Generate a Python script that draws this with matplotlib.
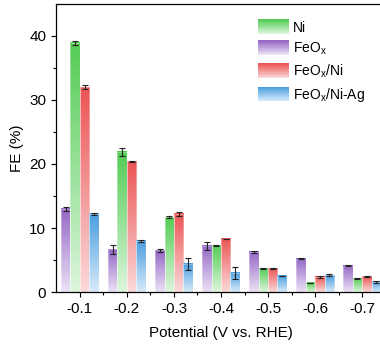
import numpy as np
import matplotlib
matplotlib.use("Agg")
import matplotlib.pyplot as plt
from matplotlib.colors import LinearSegmentedColormap
from matplotlib.patches import Rectangle
from matplotlib.legend_handler import HandlerBase

plt.rcParams['font.family'] = ['Liberation Sans', 'DejaVu Sans']
plt.rcParams['mathtext.default'] = 'regular'

# data
potentials = ['-0.1', '-0.2', '-0.3', '-0.4', '-0.5', '-0.6', '-0.7']
feox = [13.0, 6.7, 6.5, 7.2, 6.25, 5.2, 4.1]
feox_err = [0.3, 0.7, 0.2, 0.6, 0.2, 0.05, 0.1]
ni = [38.9, 21.9, 11.7, 7.3, 3.65, 1.45, 2.1]
ni_err = [0.3, 0.6, 0.2, 0.05, 0.05, 0.05, 0.1]
feox_ni = [32.0, 20.4, 12.2, 8.3, 3.7, 2.35, 2.45]
feox_ni_err = [0.3, 0.1, 0.3, 0.05, 0.05, 0.1, 0.1]
feox_ni_ag = [12.2, 8.0, 4.4, 3.0, 2.5, 2.6, 1.6]
feox_ni_ag_err = [0.1, 0.1, 0.9, 0.9, 0.05, 0.15, 0.1]

# (label, values, errors, top colour, bottom colour)
series = [
    ('FeO$_x$', feox, feox_err, '#9567c6', '#ebe2f5'),
    ('Ni', ni, ni_err, '#55cc55', '#dcf5dc'),
    ('FeO$_x$/Ni', feox_ni, feox_ni_err, '#ec5555', '#fbd9d9'),
    ('FeO$_x$/Ni-Ag', feox_ni_ag, feox_ni_ag_err, '#4a9ee0', '#d8eaf8'),
]
legend_order = [1, 0, 2, 3]

fig = plt.figure(figsize=(3.8, 3.49), dpi=100)
ax = fig.add_axes([0.147, 0.163, 0.868, 0.826])

x = np.arange(len(potentials))
w = 0.2
grad = np.linspace(1, 0, 100).reshape(-1, 1)

for i, (lab, vals, errs, ctop, cbot) in enumerate(series):
    cmap = LinearSegmentedColormap.from_list(lab, [cbot, ctop])
    pos = x + (i - 1.5) * w
    bars = ax.bar(pos, vals, w, color='none', edgecolor='none', zorder=2)
    for r in bars:
        bx, by = r.get_x(), r.get_y()
        bw, bh = r.get_width(), r.get_height()
        ax.imshow(grad, cmap=cmap, aspect='auto', extent=(bx, bx + bw, by, by + bh),
                  origin='upper', zorder=2, interpolation='bicubic')
        ax.add_patch(Rectangle((bx, by), bw, bh, fill=False, edgecolor='white',
                               linewidth=0.4, alpha=0.6, zorder=3))
    ax.errorbar(pos, vals, yerr=errs, fmt='none', ecolor='#222222', elinewidth=0.8,
                capsize=2.5, capthick=0.8, zorder=4)


class GradHandler(HandlerBase):
    def __init__(self, ctop, cbot):
        super().__init__()
        self.ctop, self.cbot = ctop, cbot

    def create_artists(self, legend, orig_handle, xdescent, ydescent, width, height,
                       fontsize, trans):
        cmap = LinearSegmentedColormap.from_list('h', [self.cbot, self.ctop])
        n = 20
        arts = []
        h = height * 1.5
        y0 = -ydescent - (h - height) / 2
        for k in range(n):
            arts.append(Rectangle((-xdescent, y0 + k * h / n), width, h / n + 0.2,
                                  facecolor=cmap(k / (n - 1)), edgecolor='none',
                                  transform=trans))
        return arts


handles = []
hmap = {}
labels = []
for j in legend_order:
    lab, _, _, ctop, cbot = series[j]
    hnd = Rectangle((0, 0), 1, 1)
    handles.append(hnd)
    labels.append(lab)
    hmap[hnd] = GradHandler(ctop, cbot)

ax.legend(handles, labels, handler_map=hmap, loc='upper left',
          bbox_to_anchor=(0.575, 0.985), frameon=False, fontsize=10,
          handlelength=2.2, handletextpad=0.3, labelspacing=0.42)

ax.set_xlim(-0.51, 6.5)
ax.set_ylim(0, 45)
ax.set_xticks(x)
ax.set_xticklabels(potentials)
ax.set_xticks(x[:-1] + 0.5, minor=True)
ax.set_yticks([0, 10, 20, 30, 40])
ax.set_yticks([5, 15, 25, 35], minor=True)
ax.tick_params(axis='both', which='major', direction='out', length=3.5, width=0.8,
               labelsize=11)
ax.tick_params(axis='both', which='minor', direction='out', length=2, width=0.8)
ax.set_xlabel('Potential (V vs. RHE)', fontsize=11, labelpad=7)
ax.set_ylabel('FE (%)', fontsize=11, labelpad=4)
for s in ax.spines.values():
    s.set_linewidth(0.9)

fig.savefig('out.png', dpi=100)
